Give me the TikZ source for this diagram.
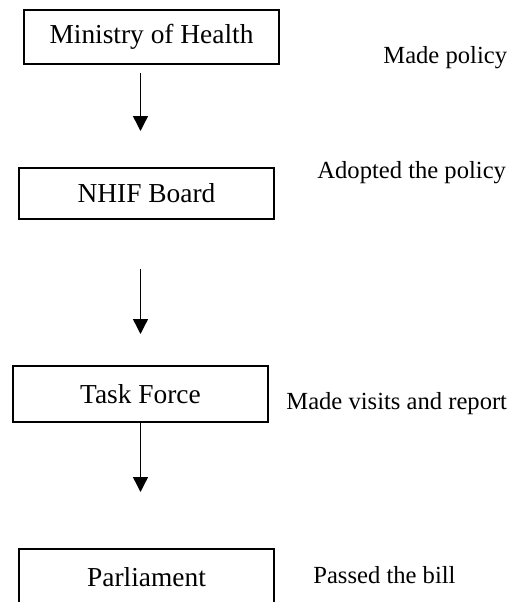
\documentclass[tikz,border=0pt]{standalone}
\usepackage{fontspec}
\setmainfont{Liberation Serif}
\usepackage{tikz}
\usetikzlibrary{arrows.meta,positioning}

\tikzset{
  stage/.style={rectangle, draw, line width=1pt, text=black,
    minimum width=127.5pt, minimum height=27pt, inner sep=0pt,
    font=\fontsize{13.7}{16}\selectfont},
  note/.style={inner sep=0pt, anchor=base west,
    font=\fontsize{12.3}{14}\selectfont},
  flow/.style={line width=0.7pt, -{Triangle[length=7.5pt,width=7.5pt]}}
}

\begin{document}
\begin{tikzpicture}[x=0.5pt, y=-0.5pt]
\useasboundingbox (0,0) rectangle (515,602);

 \node[stage, minimum height=27pt] (moh) at (151.5,37) {Ministry of Health};
 \node[note] (moh-note) at (383,63) {Made policy};

 \node[stage, minimum height=25.5pt] (nhif) at (146.5,193.5) {NHIF Board};
 \node[note] (nhif-note) at (317,178) {Adopted the policy};

 \node[stage, minimum height=28pt] (task) at (140.5,394) {Task Force};
 \node[note] (task-note) at (286,409) {Made visits and report};

 \node[stage, minimum height=28pt] (parl) at (146.5,577) {Parliament};
 \node[note] (parl-note) at (313,583) {Passed the bill};

\draw [flow, shorten <=4pt, shorten >=18pt] (moh.south -| task.south) -- (nhif.north -| task.north);
\draw [flow, shorten <=24.5pt, shorten >=15.5pt] (nhif.south -| task.south) -- (task.north);
\draw [flow, shorten >=28pt] (task.south) -- (parl.north -| task.north);

\end{tikzpicture}
\end{document}
